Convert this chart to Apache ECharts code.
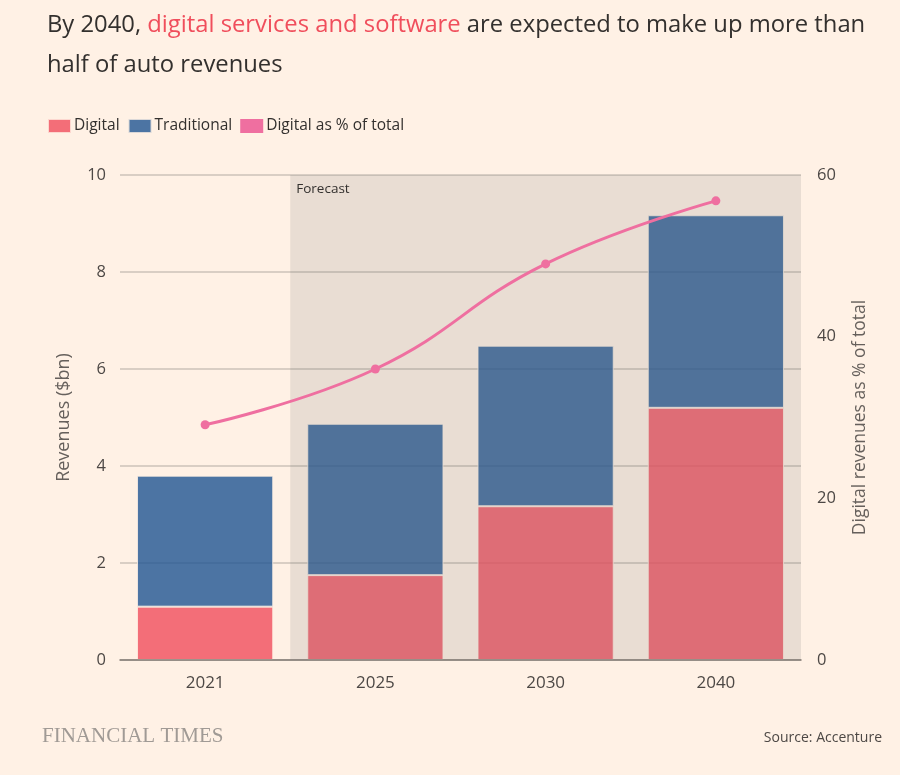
<!DOCTYPE html>
<html><head><meta charset="utf-8">
<script src="https://cdn.jsdelivr.net/npm/echarts@6/dist/echarts.min.js"></script>
<style>html,body{margin:0;padding:0;background:#FFF1E5;}#c{width:900px;height:775px;}</style>
</head><body><div id="c"></div>
<script>
const categories = ['2021', '2025', '2030', '2040'];
const digital = [1.1, 1.75, 3.17, 5.2];
const traditional = [2.7, 3.12, 3.31, 3.97];
const digitalPct = [29.1, 36.0, 49.0, 56.8];
const forecastFrom = '2025';
const leftTicks = [0, 2, 4, 6, 8, 10];
const rightTicks = [0, 20, 40, 60];

const fIdx = categories.indexOf(forecastFrom);
const font = 'Open Sans, Noto Sans, sans-serif';
const chart = echarts.init(document.getElementById('c'));
chart.setOption({
  backgroundColor: '#FFF1E5',
  animation: false,
  title: {
    left: 42, top: 0,
    text: '{a|By 2040, }{b|digital services and software}{a| are expected to make up more than}\n{a|half of auto revenues}',
    textStyle: {
      fontWeight: 'normal',
      rich: {
        a: {fontSize: 23.8, color: '#33302e', fontFamily: font, lineHeight: 40, fontWeight: 'normal'},
        b: {fontSize: 23.8, color: '#f04e5c', fontFamily: font, lineHeight: 40, fontWeight: 'normal'}
      }
    }
  },
  legend: {
    left: 42, top: 113, itemWidth: 23, itemHeight: 14, itemGap: 8,
    icon: 'rect',
    textStyle: {fontSize: 15.5, color: '#33302e', fontFamily: font, padding: [0, 0, 0, -2]},
    data: ['Digital', 'Traditional', 'Digital as % of total']
  },
  grid: {left: 120, right: 99, top: 175, bottom: 115},
  xAxis: [{
    type: 'category', data: categories,
    axisLine: {lineStyle: {color: '#807973', width: 1.5}},
    axisTick: {alignWithLabel: true, length: 8, lineStyle: {color: '#807973', width: 1.5}},
    axisLabel: {fontSize: 17, color: '#4d4845', fontFamily: font, margin: 15},
    z: 4
  }, {
    type: 'value', show: false, min: -0.5, max: categories.length - 0.5
  }],
  yAxis: [{
    type: 'value', min: leftTicks[0], max: leftTicks[leftTicks.length - 1], interval: 2,
    name: 'Revenues ($bn)', nameLocation: 'middle', nameGap: 47, nameRotate: 90,
    nameTextStyle: {fontSize: 18, color: '#66605c', fontFamily: font},
    axisLine: {show: false}, axisTick: {show: false},
    axisLabel: {fontSize: 16.5, color: '#4d4845', fontFamily: font, margin: 14},
    splitLine: {lineStyle: {color: '#cdc2b8', width: 1.5}}
  }, {
    type: 'value', min: rightTicks[0], max: rightTicks[rightTicks.length - 1], interval: 20,
    name: 'Digital revenues as % of total', nameLocation: 'middle', nameGap: 50, nameRotate: 90,
    nameTextStyle: {fontSize: 17.5, color: '#66605c', fontFamily: font},
    axisLine: {show: false}, axisTick: {show: false},
    axisLabel: {fontSize: 16.5, color: '#4d4845', fontFamily: font, margin: 16},
    splitLine: {show: false}
  }],
  series: [{
    name: 'Digital', type: 'bar', stack: 'rev', data: digital, barWidth: '80%',
    itemStyle: {color: '#f04e5c', opacity: 0.8, borderColor: '#FFF1E5', borderWidth: 1},
    z: 2
  }, {
    name: 'Traditional', type: 'bar', stack: 'rev', data: traditional, barWidth: '80%',
    itemStyle: {color: '#1f5592', opacity: 0.8, borderColor: '#FFF1E5', borderWidth: 1},
    z: 2
  }, {
    name: 'forecastBg', type: 'line', xAxisIndex: 1, yAxisIndex: 0, data: [],
    z: 3, silent: true,
    markArea: {
      z: 3,
      silent: true,
      itemStyle: {color: 'rgba(110,110,110,0.15)'},
      label: {show: true, position: 'insideTopLeft', formatter: 'Forecast', fontSize: 13.5, color: '#33302e', fontFamily: font, padding: [2, 0, 0, 1]},
      data: [[{xAxis: fIdx - 0.5, yAxis: leftTicks[leftTicks.length - 1]}, {xAxis: categories.length - 0.5, yAxis: 0}]]
    }
  }, {
    name: 'Digital as % of total', type: 'line', yAxisIndex: 1, data: digitalPct,
    smooth: 0.45, symbol: 'circle', symbolSize: 9,
    lineStyle: {color: '#ef6fa0', width: 3},
    itemStyle: {color: '#ef6fa0'},
    z: 5
  }],
  graphic: [{
    type: 'text', left: 42, top: 726,
    style: {text: 'FINANCIAL TIMES', fontSize: 21, fontFamily: 'Liberation Serif, DejaVu Serif, serif', fill: '#a09a95'}
  }, {
    type: 'text', right: 18, top: 731,
    style: {text: 'Source: Accenture', fontSize: 14, fontFamily: font, fill: '#4d4845'}
  }]
});
</script>
</body></html>
